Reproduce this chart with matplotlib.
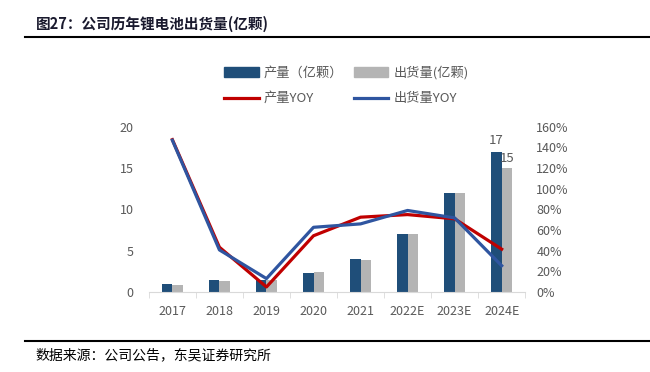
import matplotlib
matplotlib.use("Agg")
import matplotlib.pyplot as plt
import numpy as np
from matplotlib.patches import Patch
from matplotlib.lines import Line2D

plt.rcParams['font.family'] = ['Noto Sans CJK SC', 'DejaVu Sans']

categories = ['2017', '2018', '2019', '2020', '2021', '2022E', '2023E', '2024E']
production = [1.0, 1.43, 1.5, 2.33, 4.0, 7.0, 12.0, 17.0]
shipment = [0.9, 1.3, 1.5, 2.37, 3.92, 7.0, 12.0, 15.0]
production_yoy = [147.6, 43.4, 4.9, 54.5, 72.5, 75.0, 70.9, 41.5]
shipment_yoy = [147.0, 40.8, 13.0, 62.7, 66.0, 79.0, 71.8, 25.5]
left_ticks = [0, 5, 10, 15, 20]
right_ticks = [0, 20, 40, 60, 80, 100, 120, 140, 160]

c_blue_bar = '#1F4E79'
c_gray_bar = '#B4B4B4'
c_red = '#C00000'
c_blue_line = '#2F55A0'
c_text = '#595959'

fig = plt.figure(figsize=(6.5, 3.72), dpi=100)
ax = fig.add_axes([0.229, 0.215, 0.579, 0.444])
ax2 = ax.twinx()

x = np.arange(len(categories))
w = 0.23
ax.bar(x - w / 2, production, w, color=c_blue_bar, zorder=2)
ax.bar(x + w / 2, shipment, w, color=c_gray_bar, zorder=2)
ax.set_xlim(-0.5, len(categories) - 0.5)
ax.set_ylim(0, 20)
ax.set_yticks(left_ticks)
ax.set_xticks(x)
ax.set_xticklabels(categories)
ax.set_xticks(np.arange(-0.5, len(categories)), minor=True)
ax.tick_params(axis='x', which='major', length=0, pad=9, labelsize=9, labelcolor=c_text)
ax.tick_params(axis='x', which='minor', length=4, color='#D9D9D9')
ax.tick_params(axis='y', length=0, pad=11, labelsize=9, labelcolor=c_text)
for s in ['top', 'right', 'left']:
    ax.spines[s].set_visible(False)
ax.spines['bottom'].set_color('#D9D9D9')

ax.text(x[-1] - w / 2, production[-1] + 0.6, f'{production[-1]:.0f}', ha='center', va='bottom',
        fontsize=9.5, color=c_text)
ax.text(x[-1] + w / 2, shipment[-1] + 0.4, f'{shipment[-1]:.0f}', ha='center', va='bottom',
        fontsize=9.5, color=c_text)

ax2.plot(x, production_yoy, color=c_red, lw=2.3, zorder=3)
ax2.plot(x, shipment_yoy, color=c_blue_line, lw=2.3, zorder=4)
ax2.set_ylim(0, 160)
ax2.set_yticks(right_ticks)
ax2.set_yticklabels([f'{v}%' for v in right_ticks])
ax2.tick_params(axis='y', length=0, pad=8, labelsize=9, labelcolor=c_text)
for s in ['top', 'right', 'left', 'bottom']:
    ax2.spines[s].set_visible(False)

# Legend (column-wise fill: bars row 1, lines row 2)
handles = [Patch(color=c_blue_bar), Line2D([], [], color=c_red, lw=2.3),
           Patch(color=c_gray_bar), Line2D([], [], color=c_blue_line, lw=2.3)]
labels = ['产量（亿颗）', '产量YOY', '出货量(亿颗)', '出货量YOY']
fig.legend(handles, labels, loc='center', bbox_to_anchor=(0.533, 0.770),
           ncol=2, frameon=False, fontsize=9.5, labelcolor=c_text, handlelength=2.6,
           handleheight=0.7, columnspacing=0.8, handletextpad=0.4, labelspacing=0.95)

# Title and footer
fig.text(0.055, 0.935, '图27：公司历年锂电池出货量(亿颗)', fontsize=10.5, fontweight='bold',
         color='#1A1A2E', ha='left', va='center')
fig.add_artist(Line2D([0.038, 1.0], [0.90, 0.90], color='black', lw=1.5))
fig.add_artist(Line2D([0.038, 1.0], [0.083, 0.083], color='black', lw=1.5))
fig.text(0.055, 0.045, '数据来源：公司公告，东吴证券研究所', fontsize=10, color='black',
         ha='left', va='center')

fig.savefig('out.png', dpi=100)
